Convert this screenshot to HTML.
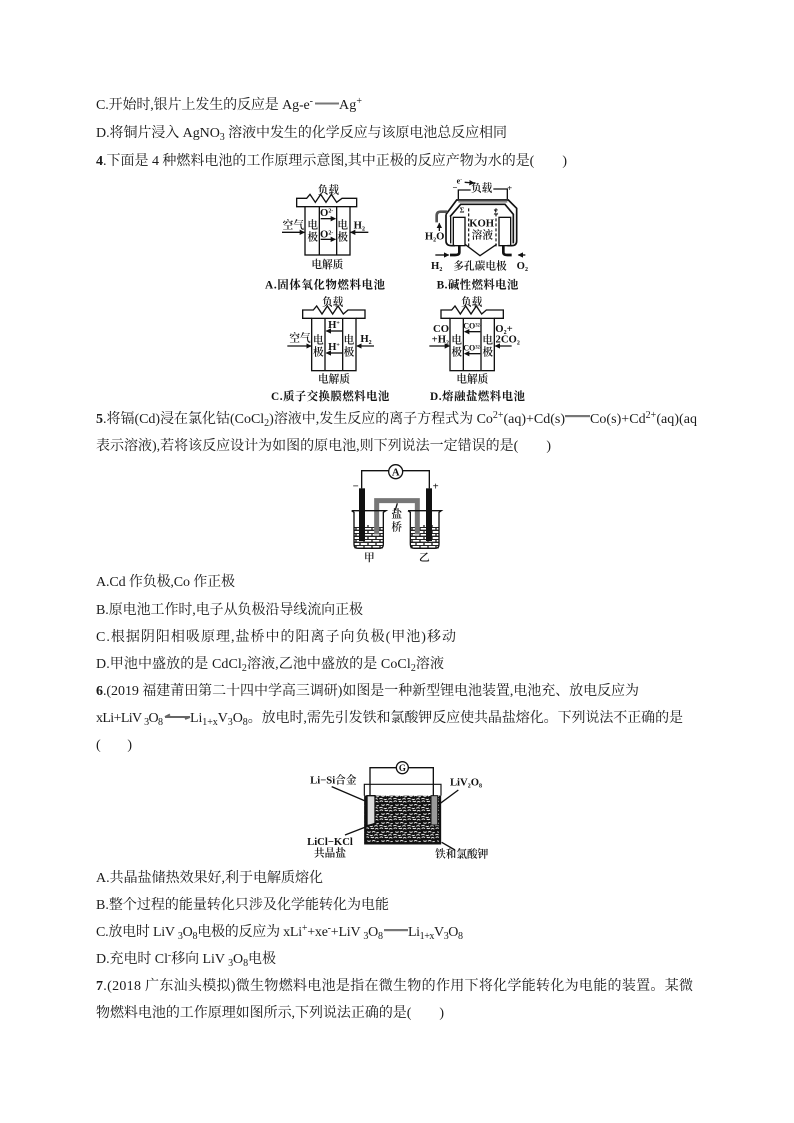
<!DOCTYPE html>
<html lang="zh"><head><meta charset="utf-8"><title>燃料电池</title>
<style>
html,body{margin:0;padding:0;background:#fff}
svg{display:block}
text{font-family:"Liberation Serif","Noto Serif CJK SC",serif;fill:#1a1a1a}
.t text,text.l{font-size:14px}
.d text{font-size:32px;text-anchor:middle;fill:#111;font-weight:600}
.d .c{font-size:34px;font-weight:700;text-anchor:start}
.d path,.d line,.d rect.o,.d circle{fill:none;stroke:#111;stroke-width:4}
.a{stroke:#111;stroke-width:4;fill:none;marker-end:url(#ar)}
tspan.s{font-size:10px}
</style></head><body>
<svg width="794" height="1123" viewBox="0 0 794 1123" xmlns="http://www.w3.org/2000/svg">
<defs>
<marker id="ar" markerWidth="4" markerHeight="4" refX="3.5" refY="2" orient="auto"><path d="M0 0L4 2L0 4z" fill="#111" stroke="none"/></marker>
<pattern id="brick" width="24" height="18" patternUnits="userSpaceOnUse">
<rect width="24" height="18" fill="#fff"/>
<path d="M0 1H24M0 10H24M6 1V10M18 10V18" stroke="#222" stroke-width="4" fill="none"/>
</pattern>
<pattern id="noise" width="42" height="27" patternUnits="userSpaceOnUse">
<rect width="42" height="27" fill="#111"/>
<path d="M2 5q5-5 10 0M17 3q5 4 10 0M30 7q5-5 10 0M7 14q5 4 10 0M21 16q5-5 10 0M34 18l7-2M1 24q5-4 10 0M14 24q5 3 10 0M28 25q5-4 10 0" stroke="#eee" stroke-width="3" fill="none"/>
</pattern>
</defs>
<rect width="794" height="1123" fill="#fff"/>

<g class="t">
<text x="96" y="109" textLength="217">C.开始时,银片上发生的反应是 Ag-e<tspan class="s" dy="-5">-</tspan></text>
<text x="339" y="109" textLength="23">Ag<tspan class="s" dy="-5">+</tspan></text>
<rect x="315" y="102.500" width="24" height="2" fill="#777"/>
<text x="96" y="137" textLength="411">D.将铜片浸入 AgNO<tspan class="s" dy="3">3</tspan><tspan dy="-3"> 溶液中发生的化学反应与该原电池总反应相同</tspan></text>
<text x="96" y="165" textLength="471"><tspan font-weight="700">4</tspan>.下面是 4 种燃料电池的工作原理示意图,其中正极的反应产物为水的是(　　)</text>

<text x="96" y="423" textLength="469"><tspan font-weight="700">5</tspan>.将镉(Cd)浸在氯化钴(CoCl<tspan class="s" dy="3">2</tspan><tspan dy="-3">)溶液中,发生反应的离子方程式为 Co</tspan><tspan class="s" dy="-5">2+</tspan><tspan dy="5">(aq)+Cd(s)</tspan></text>
<rect x="565" y="415" width="25" height="2.200" fill="#777"/>
<text x="590" y="423" textLength="107">Co(s)+Cd<tspan class="s" dy="-5">2+</tspan><tspan dy="5">(aq)(aq</tspan></text>
<text x="96" y="450" textLength="455">表示溶液),若将该反应设计为如图的原电池,则下列说法一定错误的是(　　)</text>

<text x="96" y="586" textLength="139">A.Cd 作负极,Co 作正极</text>
<text x="96" y="614" textLength="267">B.原电池工作时,电子从负极沿导线流向正极</text>
<text x="96" y="641" textLength="360">C.根据阴阳相吸原理,盐桥中的阳离子向负极(甲池)移动</text>
<text x="96" y="668" textLength="348">D.甲池中盛放的是 CdCl<tspan class="s" dy="3">2</tspan><tspan dy="-3">溶液,乙池中盛放的是 CoCl</tspan><tspan class="s" dy="3">2</tspan><tspan dy="-3">溶液</tspan></text>
<text x="96" y="695" textLength="543"><tspan font-weight="700">6</tspan>.(2019 福建莆田第二十四中学高三调研)如图是一种新型锂电池装置,电池充、放电反应为</text>
<text x="96" y="722" textLength="67">xLi+LiV <tspan class="s" dy="3">3</tspan><tspan dy="-3">O</tspan><tspan class="s" dy="3">8</tspan></text>
<path d="M165 717H190M165 717l5-2.500M190 717l-5 2" stroke="#666" stroke-width="2" fill="none"/>
<text x="190" y="722" textLength="493">Li<tspan class="s" dy="3">1+x</tspan><tspan dy="-3">V</tspan><tspan class="s" dy="3">3</tspan><tspan dy="-3">O</tspan><tspan class="s" dy="3">8</tspan><tspan dy="-3">。放电时,需先引发铁和氯酸钾反应使共晶盐熔化。下列说法不正确的是</tspan></text>
<text x="96" y="749" textLength="36">(　　)</text>

<text x="96" y="882" textLength="227">A.共晶盐储热效果好,利于电解质熔化</text>
<text x="96" y="909" textLength="293">B.整个过程的能量转化只涉及化学能转化为电能</text>
<text x="96" y="936" textLength="287">C.放电时 LiV <tspan class="s" dy="3">3</tspan><tspan dy="-3">O</tspan><tspan class="s" dy="3">8</tspan><tspan dy="-3">电极的反应为 xLi</tspan><tspan class="s" dy="-5">+</tspan><tspan dy="5">+xe</tspan><tspan class="s" dy="-5">-</tspan><tspan dy="5">+LiV </tspan><tspan class="s" dy="3">3</tspan><tspan dy="-3">O</tspan><tspan class="s" dy="3">8</tspan></text>
<rect x="384" y="929" width="24" height="2.200" fill="#777"/>
<text x="408" y="936" textLength="55">Li<tspan class="s" dy="3">1+x</tspan><tspan dy="-3">V</tspan><tspan class="s" dy="3">3</tspan><tspan dy="-3">O</tspan><tspan class="s" dy="3">8</tspan></text>
<text x="96" y="963" textLength="180">D.充电时 Cl<tspan class="s" dy="-5">-</tspan><tspan dy="5">移向 LiV </tspan><tspan class="s" dy="3">3</tspan><tspan dy="-3">O</tspan><tspan class="s" dy="3">8</tspan><tspan dy="-3">电极</tspan></text>
<text x="96" y="990" textLength="597"><tspan font-weight="700">7</tspan>.(2018 广东汕头模拟)微生物燃料电池是指在微生物的作用下将化学能转化为电能的装置。某微</text>
<text x="96" y="1017" textLength="348">物燃料电池的工作原理如图所示,下列说法正确的是(　　)</text>
</g>

<!-- A -->
<g class="d" transform="translate(260 170) scale(.33333)">
<rect class="o" x="135" y="110" width="135" height="145"/>
<line x1="178" y1="110" x2="178" y2="255"/><line x1="230" y1="110" x2="230" y2="255"/>
<path d="M135 110H110V85H140l10-12 16 24 16-24 16 24 16-24 16 24 16-12H290V110H270"/>
<text x="205" y="70">负载</text>
<text x="158" y="175">电</text><text x="158" y="212">极</text>
<text x="248" y="175">电</text><text x="248" y="212">极</text>
<text x="200" y="138">O<tspan font-size="18" dy="-10">2-</tspan></text>
<text x="200" y="203">O<tspan font-size="18" dy="-10">2-</tspan></text>
<line class="a" x1="182" y1="146" x2="226" y2="146"/>
<line class="a" x1="182" y1="208" x2="226" y2="208"/>
<text x="100" y="175">空气</text>
<line class="a" x1="66" y1="187" x2="133" y2="187"/>
<text x="298" y="175">H<tspan font-size="18" dy="6">2</tspan></text>
<line class="a" x1="325" y1="187" x2="272" y2="187"/>
<text x="202" y="294">电解质</text>
<text class="c" x="15" y="355" textLength="360">A.固体氧化物燃料电池</text>
<text class="c" x="530" y="355" textLength="245">B.碱性燃料电池</text>
</g>

<!-- B -->
<g class="d" transform="translate(420 175) scale(.33333)">
<path d="M115 72V45H152M220 42H262V72"/>
<text x="105" y="46" style="font-size:26px">−</text>
<text x="269" y="48" style="font-size:26px">+</text>
<text x="118" y="26" style="font-size:24px">e<tspan font-size="16" dy="-8">-</tspan></text>
<line class="a" x1="134" y1="22" x2="162" y2="24"/>
<text x="185" y="50">负载</text>
<path d="M78 118L110 75H265L290 100V198Q290 212 275 212H262" style="stroke-width:5"/>
<path d="M90 125L122 88H255L280 118V205" style="stroke-width:5"/>
<path d="M115 80H262" style="stroke:#888;stroke-width:6"/>
<path d="M78 118V198Q78 212 95 212H105" style="stroke-width:5"/>
<path d="M92 125V205" style="stroke-width:4"/>
<path d="M50 142V122Q50 110 62 110H82" style="stroke:#555;stroke-width:8"/>
<rect class="o" x="100" y="127" width="35" height="85"/>
<rect class="o" x="237" y="127" width="35" height="85"/>
<path d="M146 100V215M228 100V215" style="stroke-dasharray:9 6;stroke-width:3.500"/>
<path d="M135 208L180 242L230 208" style="stroke-width:4"/>
<path d="M118 212V232Q118 240 105 240H90M250 212V232Q250 240 262 240H275" style="stroke-width:8"/>
<text x="126" y="112" style="font-size:22px">Σ</text>
<text x="228" y="118" style="font-size:22px">Σ</text>
<text x="185" y="155">KOH</text>
<text x="187" y="190">溶液</text>
<line class="a" x1="58" y1="168" x2="58" y2="145"/>
<text x="44" y="194">H<tspan font-size="18" dy="6">2</tspan><tspan dy="-6">O</tspan></text>
<line class="a" x1="46" y1="240" x2="86" y2="240"/>
<line class="a" x1="316" y1="240" x2="295" y2="240"/>
<text x="50" y="282">H<tspan font-size="18" dy="6">2</tspan></text>
<text x="180" y="284">多孔碳电极</text>
<text x="307" y="282">O<tspan font-size="18" dy="6">2</tspan></text>
</g>

<!-- C, D -->
<g class="d" transform="translate(260 290) scale(.33333)">
<rect class="o" x="155" y="85" width="133" height="157"/>
<line x1="195" y1="85" x2="195" y2="242"/><line x1="248" y1="85" x2="248" y2="242"/>
<path d="M155 85H128V60H160l10-12 16 24 16-24 16 24 16-24 16 24 14-12H315V85H288"/>
<text x="218" y="46">负载</text>
<text x="175" y="160">电</text><text x="175" y="197">极</text>
<text x="267" y="160">电</text><text x="267" y="197">极</text>
<text x="222" y="114">H<tspan font-size="18" dy="-10">+</tspan></text>
<text x="222" y="180">H<tspan font-size="18" dy="-10">+</tspan></text>
<line class="a" x1="246" y1="123" x2="199" y2="123"/>
<line class="a" x1="246" y1="189" x2="199" y2="189"/>
<text x="120" y="155">空气</text>
<line class="a" x1="82" y1="168" x2="153" y2="168"/>
<text x="318" y="156">H<tspan font-size="18" dy="6">2</tspan></text>
<line class="a" x1="342" y1="168" x2="291" y2="168"/>
<text x="222" y="278">电解质</text>
<text class="c" x="33" y="330" textLength="355">C.质子交换膜燃料电池</text>

<rect class="o" x="570" y="85" width="133" height="157"/>
<line x1="610" y1="85" x2="610" y2="242"/><line x1="663" y1="85" x2="663" y2="242"/>
<path d="M570 85H543V60H575l10-12 16 24 16-24 16 24 16-24 16 24 14-12H730V85H703"/>
<text x="635" y="46">负载</text>
<text x="590" y="160">电</text><text x="590" y="197">极</text>
<text x="683" y="160">电</text><text x="683" y="197">极</text>
<text x="637" y="115" style="font-size:24px">CO<tspan font-size="14" dy="-6">3</tspan><tspan font-size="14">2-</tspan></text>
<text x="637" y="181" style="font-size:24px">CO<tspan font-size="14" dy="-6">3</tspan><tspan font-size="14">2-</tspan></text>
<line class="a" x1="661" y1="125" x2="614" y2="125"/>
<line class="a" x1="661" y1="191" x2="614" y2="191"/>
<text x="543" y="126">CO</text>
<text x="541" y="158">+H<tspan font-size="18" dy="6">2</tspan></text>
<line class="a" x1="508" y1="168" x2="568" y2="168"/>
<text x="732" y="126">O<tspan font-size="18" dy="6">2</tspan><tspan dy="-6">+</tspan></text>
<text x="743" y="158">2CO<tspan font-size="18" dy="6">2</tspan></text>
<line class="a" x1="755" y1="168" x2="706" y2="168"/>
<text x="637" y="278">电解质</text>
<text class="c" x="510" y="330" textLength="285">D.熔融盐燃料电池</text>
</g>

<!-- Salt bridge cell -->
<g class="d" transform="translate(330 455) scale(.33333)">
<rect x="73" y="210" width="86" height="70" fill="url(#brick)"/>
<rect x="241" y="210" width="86" height="70" fill="url(#brick)"/>
<path d="M140 238V137H262V238" style="stroke:#777;stroke-width:15"/>
<path d="M95 100V47H176M219 47H298V100"/>
<circle cx="197" cy="50" r="21"/>
<text x="197" y="61">A</text>
<rect x="87" y="100" width="18" height="158" fill="#111"/>
<rect x="288" y="100" width="18" height="158" fill="#111"/>
<path d="M65 167L72 172V268Q72 280 84 280H148Q160 280 160 268V172L168 167H65"/>
<path d="M234 167L241 172V268Q241 280 253 280H315Q327 280 327 268V172L334 167H234"/>
<path d="M202 145L196 165"/>
<text x="200" y="188">盐</text>
<text x="200" y="226">桥</text>
<text x="77" y="104">−</text>
<text x="317" y="104">+</text>
<text x="118" y="318">甲</text>
<text x="283" y="318">乙</text>
</g>

<!-- Li cell -->
<g class="d" transform="translate(295 755) scale(.33333)">
<rect x="208" y="122" width="230" height="143" fill="url(#noise)"/>
<path d="M208 122V88H438V122" style="stroke-width:3.500"/>
<path d="M211 122V265H435V122" style="stroke-width:7"/>
<path d="M225 122V38H305M340 38H415V122"/>
<circle cx="322" cy="38" r="18"/>
<text x="322" y="48" style="font-size:27px">G</text>
<path d="M216 122H240V206L216 212Z" style="fill:#ddd"/>
<rect x="408" y="122" width="20" height="88" fill="#999" stroke="#111" stroke-width="3"/>
<path d="M110 95L215 140M490 105L432 148M150 240L240 205M440 262L480 285"/>
<text x="115" y="86">Li−Si合金</text>
<text x="513" y="92">LiV<tspan font-size="18" dy="6">2</tspan><tspan dy="-6">O</tspan><tspan font-size="18" dy="6">8</tspan></text>
<text x="105" y="270">LiCl−KCl</text>
<text x="105" y="304">共晶盐</text>
<text x="500" y="308">铁和氯酸钾</text>
</g>
</svg>
</body></html>
